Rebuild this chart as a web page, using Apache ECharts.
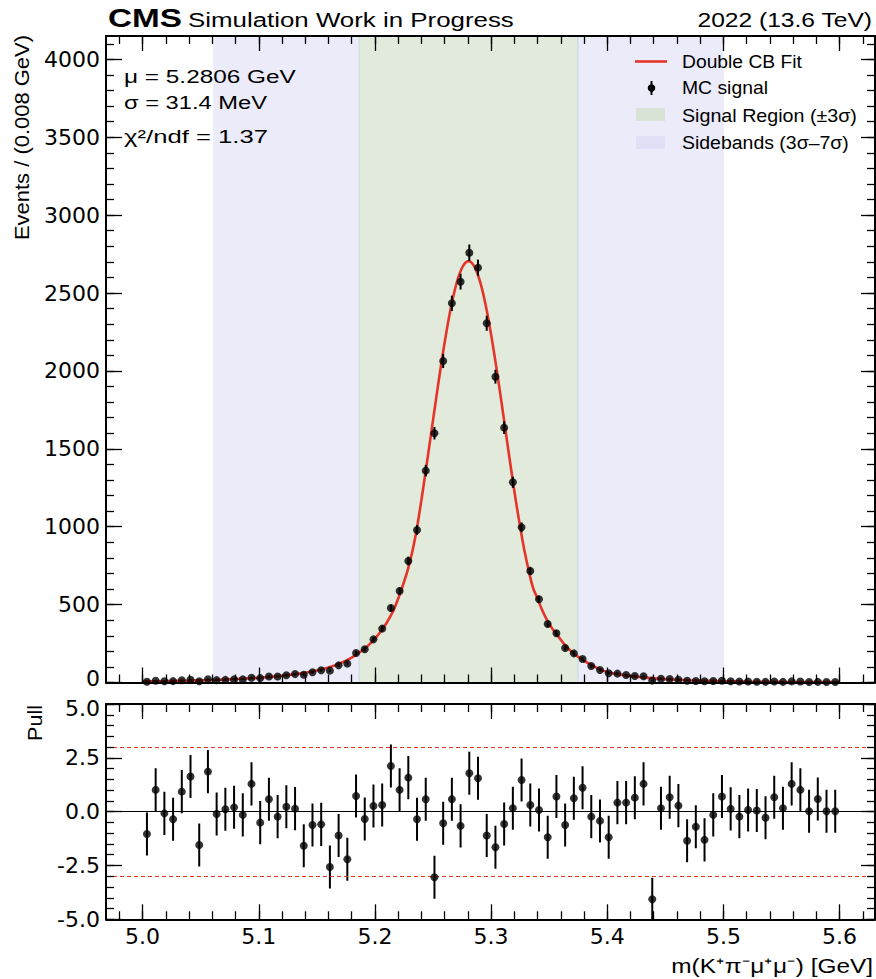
<!DOCTYPE html>
<html><head><meta charset="utf-8">
<script src="https://cdn.jsdelivr.net/npm/echarts@6/dist/echarts.min.js"></script>
<style>html,body{margin:0;padding:0;background:#fff}#c{width:876px;height:979px}</style>
</head><body><div id="c"></div>
<script>
// ---------------- data ----------------
const binCenters = [
 5.00375,5.01125,5.01875,5.02625,5.03375,5.04125,5.04875,5.05625,5.06375,5.07125,
 5.07875,5.08625,5.09375,5.10125,5.10875,5.11625,5.12375,5.13125,5.13875,5.14625,
 5.15375,5.16125,5.16875,5.17625,5.18375,5.19125,5.19875,5.20625,5.21375,5.22125,
 5.22875,5.23625,5.24375,5.25125,5.25875,5.26625,5.27375,5.28125,5.28875,5.29625,
 5.30375,5.31125,5.31875,5.32625,5.33375,5.34125,5.34875,5.35625,5.36375,5.37125,
 5.37875,5.38625,5.39375,5.40125,5.40875,5.41625,5.42375,5.43125,5.43875,5.44625,
 5.45375,5.46125,5.46875,5.47625,5.48375,5.49125,5.49875,5.50625,5.51375,5.52125,
 5.52875,5.53625,5.54375,5.55125,5.55875,5.56625,5.57375,5.58125,5.58875,5.59625];
const mcCounts = [
 5,11,8,9,14,18,8,21,15,17,
 20,20,31,28,39,39,47,54,50,66,
 79,76,110,121,189,213,277,346,478,587,
 780,979,1360,1600,2064,2434,2573,2759,2663,2306,
 1963,1636,1285,996,716,534,376,316,221,187,
 151,106,80,59,57,48,42,40,12,24,
 23,18,11,10,8,10,11,8,6,6,
 5,4,6,4,7,6,3,4,3,3];
const pullValues = [
 -1.04,1.01,-0.08,-0.35,0.93,1.63,-1.55,1.86,-0.11,0.11,
 0.20,-0.15,1.29,-0.51,0.58,-0.23,0.23,0.14,-1.58,-0.62,
 -0.59,-2.57,-1.11,-2.21,0.73,-0.34,0.26,0.31,2.12,1.01,
 1.58,-0.35,0.58,-3.05,-0.54,0.58,-0.66,1.78,1.55,-1.11,
 -1.65,-0.57,0.16,1.47,0.31,0.08,-1.19,0.70,-0.62,0.62,
 1.11,-0.23,-0.43,-1.19,0.42,0.42,0.65,1.29,-4.07,0.16,
 0.67,0.28,-1.35,-0.70,-1.31,-0.15,0.70,0.13,-0.23,0.08,
 0.05,-0.28,0.67,0.16,1.29,1.01,0.02,0.59,0.02,0.02];
const fitX = [5.000,5.020,5.040,5.060,5.080,5.100,5.110,5.120,5.130,5.140,
 5.150,5.160,5.170,5.180,5.190,5.195,5.200,5.205,5.210,5.215,
 5.2175,5.22125,5.225,5.22875,5.2325,5.23625,5.240,5.2425,5.24625,5.250,
 5.25375,5.2575,5.26125,5.265,5.26875,5.2725,5.27625,5.2806,5.28375,5.2875,
 5.29125,5.295,5.29875,5.3025,5.30625,5.310,5.31375,5.3175,5.32125,5.325,
 5.32875,5.3325,5.33625,5.340,5.34375,5.3475,5.35125,5.355,5.35875,5.3625,
 5.370,5.3775,5.385,5.3925,5.400,5.410,5.420,5.430,5.440,5.450,
 5.460,5.470,5.480,5.500,5.520,5.550,5.600];
const fitY = [7,9,12,16,22,30,36,43,52,63,
 77,96,123,160,210,243,282,328,382,448,
 490,563,645,736,850,995,1170,1295,1487,1683,
 1877,2064,2237,2391,2519,2617,2679,2705,2691,2640,
 2554,2435,2289,2121,1938,1745,1549,1356,1170,1000,
 845,715,605,540,468,410,362,322,287,250,
 192,152,118,89,68,52,41,33,26.5,21.5,
 17.5,14.5,12,8.5,6,4,2.5];
const fitMu = 5.2806;      // GeV
const fitSigma = 0.0314;   // GeV
const statLines = ['μ = 5.2806 GeV', 'σ = 31.4 MeV', 'χ²/ndf = 1.37'];
const legendLabels = ['Double CB Fit', 'MC signal', 'Signal Region (±3σ)', 'Sidebands (3σ–7σ)'];
const xMajorTicks = [5.0,5.1,5.2,5.3,5.4,5.5,5.6];
const yMajorTicks = [0,500,1000,1500,2000,2500,3000,3500,4000];
const pullMajorTicks = [-5,-2.5,0,2.5,5];
const pullBands = [3,-3];
const XMIN = 4.9685, XMAX = 5.6305, YMAX = 4150, PMIN = -5, PMAX = 5;

const xMinorTicks = []; for (let k = 249; k <= 281; k++) xMinorTicks.push(+(k*0.02).toFixed(2));
const yMinorTicks = []; for (let k = 0; k <= 41; k++) yMinorTicks.push(k*100);
const pullMinorTicks = []; for (let k = -10; k <= 10; k++) pullMinorTicks.push(k*0.5);

// ---------------- helpers ----------------
const FONT = 'Liberation Sans, Arial, Helvetica, sans-serif';
const TICKFONT = 'DejaVu Sans';
const mctx = document.createElement('canvas').getContext('2d');
function sx(text, font, target){ mctx.font = font; return target / mctx.measureText(text).width; }
function txt(text, x, y, size, target, opts){
  opts = opts || {};
  const font = (opts.bold ? 'bold ' : '') + size + 'px ' + FONT;
  return {type:'text', x:x, y:y, rotation: opts.rot || 0, scaleX: target ? sx(text, font, target) : 1, z:100,
    style:{text:text, font:font, fill:'#000', align: opts.align || 'left', verticalAlign:'middle',
           textAlign: opts.align || 'left', textVerticalAlign:'middle'}};
}
function xAx(grid, pos, ticks, len, frame, labels){
  return {type:'value', gridIndex:grid, position:pos, min:XMIN, max:XMAX, z:10,
    axisLine:{show:frame, onZero:false, lineStyle:{color:'#000', width:2}},
    axisTick:{show:true, inside:true, length:len, customValues:ticks, lineStyle:{color:'#000', width:1.3}},
    axisLabel: labels ? {show:true, customValues:xMajorTicks, formatter:v=>Number(v).toFixed(1),
        fontSize:22, lineHeight:16, fontFamily:TICKFONT, color:'#000', margin:9} : {show:false},
    splitLine:{show:false}};
}
function yAx(grid, pos, min, max, ticks, len, frame, labels, fmt, vAlign){
  return {type:'value', gridIndex:grid, position:pos, min:min, max:max, z:10,
    axisLine:{show:frame, onZero:false, lineStyle:{color:'#000', width:2}},
    axisTick:{show:true, inside:true, length:len, customValues:ticks, lineStyle:{color:'#000', width:1.3}},
    axisLabel: labels ? {show:true, customValues:labels, formatter:fmt, verticalAlign: vAlign || 'middle',
        fontSize:22, lineHeight: vAlign ? 9 : 16, fontFamily:TICKFONT, color:'#000', margin:6} : {show:false},
    splitLine:{show:false}};
}
function errRender(lw){
  return function(params, api){
    const x = api.value(0), y = api.value(1), e = api.value(2);
    const p1 = api.coord([x, y - e]), p2 = api.coord([x, y + e]);
    return {type:'line', shape:{x1:p1[0], y1:p1[1], x2:p2[0], y2:p2[1]}, style:{stroke:'#000', lineWidth:lw}};
  };
}

const srLo = fitMu - 3*fitSigma, srHi = fitMu + 3*fitSigma;
const sbLo = fitMu - 7*fitSigma, sbHi = fitMu + 7*fitSigma;
const SR_COLOR = '#e1eadb', SB_COLOR = '#ebebfa';
const intFmt = v=>String(Math.round(v));
const oneDec = v=>Number(v).toFixed(1);

const chart = echarts.init(document.getElementById('c'), null, {renderer:'svg'});
chart.setOption({
  animation:false,
  backgroundColor:'#fff',
  grid:[
    {left:106, top:36, width:769, height:646.5},
    {left:106, top:704, width:769, height:215.3}
  ],
  xAxis:[
    xAx(0,'bottom',xMajorTicks,15,true,false),
    xAx(0,'bottom',xMinorTicks,8,false,false),
    xAx(0,'top',xMajorTicks,15,true,false),
    xAx(0,'top',xMinorTicks,8,false,false),
    xAx(1,'bottom',xMajorTicks,15,true,true),
    xAx(1,'bottom',xMinorTicks,8,false,false),
    xAx(1,'top',xMajorTicks,15,true,false),
    xAx(1,'top',xMinorTicks,8,false,false)
  ],
  yAxis:[
    yAx(0,'left',0,YMAX,yMajorTicks,16,true,yMajorTicks.slice(1),intFmt),
    yAx(0,'left',0,YMAX,yMinorTicks,8,false,yMajorTicks.slice(0,1),intFmt,'bottom'),
    yAx(0,'right',0,YMAX,yMajorTicks,14,true,null),
    yAx(0,'right',0,YMAX,yMinorTicks,8,false,null),
    yAx(1,'left',PMIN,PMAX,pullMajorTicks,16,true,pullMajorTicks.slice(0,-1),oneDec),
    yAx(1,'left',PMIN,PMAX,pullMinorTicks,8,false,pullMajorTicks.slice(-1),oneDec,'top'),
    yAx(1,'right',PMIN,PMAX,pullMajorTicks,14,true,null),
    yAx(1,'right',PMIN,PMAX,pullMinorTicks,8,false,null)
  ],
  series:[
    {type:'line', xAxisIndex:0, yAxisIndex:0, data:[[XMIN,0]], showSymbol:false, lineStyle:{width:0}, z:1, silent:true,
     markArea:{silent:true, data:[
       [{xAxis:sbLo, itemStyle:{color:SB_COLOR}}, {xAxis:srLo}],
       [{xAxis:srHi, itemStyle:{color:SB_COLOR}}, {xAxis:sbHi}],
       [{xAxis:srLo, itemStyle:{color:SR_COLOR, borderColor:'#c8d5e2', borderWidth:1}}, {xAxis:srHi}]
     ]}},
    {name:'Double CB Fit', type:'line', xAxisIndex:0, yAxisIndex:0, z:3,
     data: fitX.map((x,i)=>[x, fitY[i]]), showSymbol:false, smooth:0.35,
     lineStyle:{color:'#e5352a', width:2.6}},
    {type:'custom', xAxisIndex:0, yAxisIndex:0, z:4, renderItem: errRender(2),
     data: binCenters.map((x,i)=>[x, mcCounts[i], Math.sqrt(mcCounts[i])]), encode:{x:0, y:1}},
    {name:'MC signal', type:'scatter', xAxisIndex:0, yAxisIndex:0, z:5, symbolSize:8,
     itemStyle:{color:'#000'}, data: binCenters.map((x,i)=>[x, mcCounts[i]])},
    {type:'line', xAxisIndex:4, yAxisIndex:4, data:[[XMIN,0]], showSymbol:false, lineStyle:{width:0}, z:1, silent:true,
     markLine:{silent:true, symbol:'none', label:{show:false}, data:[
       {yAxis:pullBands[0], lineStyle:{color:'#e5352a', type:[4,3], width:1}},
       {yAxis:pullBands[1], lineStyle:{color:'#e5352a', type:[4,3], width:1}},
       {yAxis:0, lineStyle:{color:'#000', type:'solid', width:1}}
     ]}},
    {type:'custom', xAxisIndex:4, yAxisIndex:4, z:4, clip:true, renderItem: errRender(2),
     data: binCenters.map((x,i)=>[x, pullValues[i], 1]), encode:{x:0, y:1}},
    {type:'scatter', xAxisIndex:4, yAxisIndex:4, z:5, symbolSize:8, clip:true,
     itemStyle:{color:'#000'}, data: binCenters.map((x,i)=>[x, pullValues[i]])}
  ],
  graphic:[
    txt('CMS', 108, 18, 25, 74, {bold:true}),
    txt('Simulation Work in Progress', 188, 20, 20, 326),
    txt('2022 (13.6 TeV)', 872, 20.5, 20, 175, {align:'right'}),
    txt(statLines[0], 124, 76.5, 19, 172),
    txt(statLines[1], 124, 102.5, 19, 143),
    txt(statLines[2], 124, 136.5, 19, 144),
    txt('Events / (0.008 GeV)', 22, 35, 20, 205, {align:'right', rot:Math.PI/2}),
    txt('Pull', 35, 705, 20, 36, {align:'right', rot:Math.PI/2}),
    txt('m(K⁺π⁻μ⁺μ⁻) [GeV]', 873, 966, 20, 201, {align:'right'}),
    {type:'line', shape:{x1:635, y1:61.5, x2:667, y2:61.5}, style:{stroke:'#e5352a', lineWidth:2.6}, z:100},
    {type:'line', shape:{x1:651.5, y1:81, x2:651.5, y2:95}, style:{stroke:'#000', lineWidth:2}, z:100},
    {type:'circle', shape:{cx:651.5, cy:88, r:3.8}, style:{fill:'#000'}, z:100},
    {type:'rect', shape:{x:636, y:108, width:29, height:13}, style:{fill:'#d9e3d5'}, z:100},
    {type:'rect', shape:{x:636, y:136, width:29, height:13}, style:{fill:'#e0e0f7'}, z:100},
    txt(legendLabels[0], 682, 61.5, 19, 120),
    txt(legendLabels[1], 682, 88, 19, 86),
    txt(legendLabels[2], 682, 115, 19, 175),
    txt(legendLabels[3], 682, 143, 19, 167)
  ]
});
</script>
</body></html>
